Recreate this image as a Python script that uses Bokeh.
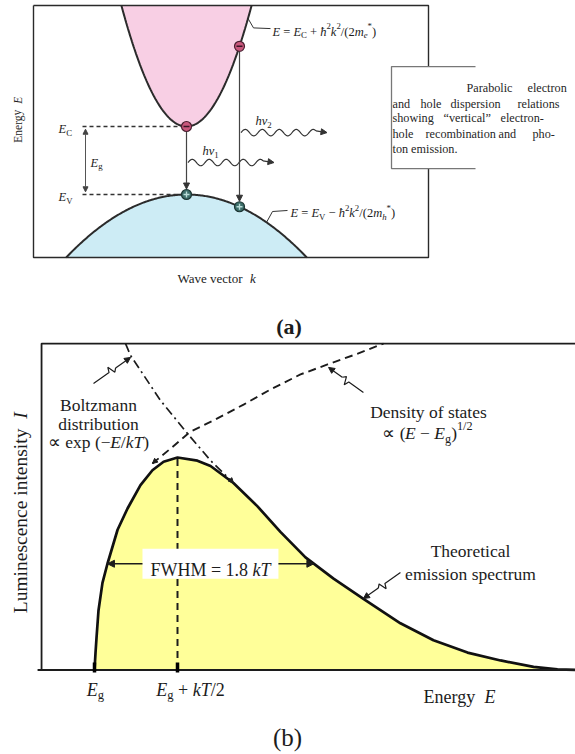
import math
import numpy as np
from bokeh.plotting import figure
from bokeh.layouts import column
from bokeh.models import ColumnDataSource, Arrow, NormalHead, Range1d
from bokeh.embed import file_html
from bokeh.resources import INLINE

SERIF = "Liberation Serif"
INK = "#1c1c1c"
NBSP = "\u00a0"

# ---------------- panel (a): parabolic band diagram (E in units of Eg) ----------------
E_C = 1.0                 # conduction-band edge
E_V = 0.0                 # valence-band edge
HB2_2ME = 1.05            # hbar^2 / (2 m_e*)
HB2_2MH = 0.16            # hbar^2 / (2 m_h*)
K_TRANSITIONS = [0.0, 1.06]      # wave vectors of the two vertical transitions
PHOTON_NAMES = ["1", "2"]

A_FRAME_K = (-3.06, 4.84)        # box around the band diagram
A_FRAME_E = (-0.926, 2.78)
A_VIEW_K = (-3.72, 7.78)
A_VIEW_E = (-2.147, 2.853)

# ---------------- panel (b): luminescence spectrum, x = (E - Eg)/kT ----------------
EMIT_X = [0.0, 0.006, 0.012, 0.024, 0.048, 0.078, 0.139, 0.199, 0.277, 0.349, 0.416,
          0.5, 0.62, 0.699, 0.837, 0.982, 1.12, 1.271, 1.44, 1.62, 1.843, 2.042,
          2.247, 2.446, 2.645, 2.789, 2.95]
EMIT_I = [0.0, 0.08, 0.15, 0.28, 0.41, 0.50, 0.66, 0.76, 0.87, 0.94, 0.98,
          1.0, 0.985, 0.96, 0.88, 0.77, 0.65, 0.53, 0.43, 0.335, 0.22, 0.14,
          0.082, 0.045, 0.015, 0.003, 0.0]
DOS_X = [0.349, 0.458, 0.578, 0.729, 0.898, 1.060, 1.241, 1.404, 1.572, 1.741]
DOS_I = [0.972, 1.042, 1.122, 1.179, 1.249, 1.320, 1.391, 1.438, 1.485, 1.536]
BOLTZ_X = [0.187, 0.217, 0.398, 0.560, 0.699, 0.837]
BOLTZ_I = [1.536, 1.480, 1.268, 1.113, 0.986, 0.880]
TICK_X = [0.0, 0.5]
TICK_LABEL_X = [0.006, 0.578]
TICK_LABELS = [[("E", "i"), ("g", "sub")],
               [("E", "i"), ("g", "sub"), (" + ", "n"), ("kT", "i"), ("/2", "n")]]
FWHM_KT = 1.8

B_FRAME_X = (-0.319, 2.95)
B_FRAME_TOP = 1.536
B_VIEW_X = (-0.5663, 2.8976)
B_VIEW_I = (-0.3976, 1.5506)

PINK = "#f8cfe4"
BLUE = "#cdecf5"
YELLOW = "#ffff99"

# Times / Liberation Serif advance widths (em) used to lay out mixed-style runs
W_REG = {" ": .25, NBSP: .25, "(": .333, ")": .333, "*": .5, "+": .564, "-": .333,
         ".": .25, "/": .278, "=": .564, "−": .564, "∝": .713, "ħ": .5, "ν": .5,
         "“": .444, "”": .444,
         "A": .722, "B": .667, "C": .667, "D": .722, "E": .611, "F": .556, "G": .722,
         "H": .722, "I": .333, "K": .722, "L": .611, "M": .889, "N": .722, "O": .722,
         "P": .556, "R": .667, "S": .556, "T": .611, "V": .722, "W": .944,
         "a": .444, "b": .5, "c": .444, "d": .5, "e": .444, "f": .333, "g": .5, "h": .5,
         "i": .278, "k": .5, "l": .278, "m": .778, "n": .5, "o": .5, "p": .5, "r": .333,
         "s": .389, "t": .278, "u": .5, "v": .5, "w": .722, "x": .5, "y": .5, "z": .444}
W_IT = {"E": .611, "I": .333, "T": .556, "k": .444, "m": .722, "h": .5, "e": .444,
        "g": .5, "ν": .44}


def run_width(s, style):
    tab = W_IT if style == "italic" else W_REG
    return sum(tab.get(c, W_REG.get(c, 0.5)) for c in s)


class RichText:
    """Collects text runs (italic, sub/superscript) into one text glyph."""

    def __init__(self):
        self.d = dict(x=[], y=[], t=[], xo=[], yo=[], fs=[], st=[], ang=[],
                      col=[], base=[], font=[])

    def add(self, x, y, runs, size, align="left", angle=0.0, color=INK,
            baseline="alphabetic", font=SERIF):
        if isinstance(runs, str):
            runs = [(runs, "n")]
        items, total = [], 0.0
        for s, kind in runs:
            s = s.replace(" ", NBSP)   # keep run-edge spaces in SVG text
            small = kind.startswith("sub") or kind.startswith("sup")
            fs = size * (0.7 if small else 1.0)
            style = "italic" if kind.endswith("i") else ("bold" if kind == "b" else "normal")
            shift = 0.3 * size if kind.startswith("sub") else (-0.42 * size if kind.startswith("sup") else 0.0)
            items.append((s, fs, style, shift, total))
            total += run_width(s, style) * fs
        start = {"left": 0.0, "center": -total / 2, "right": -total}[align]
        c, sn = math.cos(angle), math.sin(angle)
        for s, fs, style, shift, adv in items:
            a = start + adv
            self.d["x"].append(x)
            self.d["y"].append(y)
            self.d["t"].append(s)
            self.d["xo"].append(a * c + shift * sn)
            self.d["yo"].append(-a * sn + shift * c)
            self.d["fs"].append(f"{fs:.1f}px")
            self.d["st"].append(style)
            self.d["ang"].append(angle)
            self.d["col"].append(color)
            self.d["base"].append(baseline)
            self.d["font"].append(font)

    def draw(self, p):
        p.text(x="x", y="y", text="t", x_offset="xo", y_offset="yo", angle="ang",
               text_font_size="fs", text_font_style="st", text_color="col",
               text_baseline="base", text_align="left", text_font="font",
               source=ColumnDataSource(self.d))


def head(size=6, color=INK):
    return NormalHead(size=size, fill_color=color, line_color=color)


def leader(p, x0, y0, x1, y1, pxx, pxy, color=INK, width=1.2):
    """Line with a small zig-zag, ending in an arrow head at (x1, y1)."""
    dx, dy = (x1 - x0) * pxx, (y1 - y0) * pxy
    L = math.hypot(dx, dy)
    ux, uy = dx / L, dy / L
    nx, ny = -uy, ux
    def pt(a, b):
        return x0 + (a * ux + b * nx) / pxx, y0 + (a * uy + b * ny) / pxy
    a0 = 0.42 * L
    pts = [pt(0, 0), pt(a0, 0), pt(a0 + 2, 5), pt(a0 + 5, -3), pt(a0 + 8, 0)]
    p.line([q[0] for q in pts], [q[1] for q in pts], line_color=color, line_width=width)
    p.add_layout(Arrow(end=head(6, color), x_start=pts[-1][0], y_start=pts[-1][1],
                       x_end=x1, y_end=y1, line_color=color, line_width=width))


# =============================== panel (a) ===============================
A_H = 340
pa = figure(width=575, height=A_H, x_range=Range1d(*A_VIEW_K), y_range=Range1d(*A_VIEW_E),
            output_backend="svg", toolbar_location=None, x_axis_type=None, y_axis_type=None,
            min_border=0, outline_line_color=None, background_fill_color="white",
            border_fill_color="white")
A_PXK = 575 / (A_VIEW_K[1] - A_VIEW_K[0])
A_PXE = A_H / (A_VIEW_E[1] - A_VIEW_E[0])

# bands from the dispersion relations shown in the labels
kc_max = math.sqrt((A_FRAME_E[1] - E_C) / HB2_2ME)
kc = np.linspace(-kc_max, kc_max, 161)
ec = E_C + HB2_2ME * kc ** 2
kv_max = math.sqrt((E_V - A_FRAME_E[0]) / HB2_2MH)
kv = np.linspace(-kv_max, kv_max, 201)
ev = E_V - HB2_2MH * kv ** 2

pa.patch(list(kc), list(ec), fill_color=PINK, line_color=None)
pa.patch(list(kv), list(ev), fill_color=BLUE, line_color=None)

k0, k1 = A_FRAME_K
e0, e1 = A_FRAME_E
pa.line([k0, k1, k1, k0, k0], [e1, e1, e0, e0, e1], line_color="#2a2a2a", line_width=1.4)

pa.line(kc, ec, line_color="#2b2b2b", line_width=2.0)
pa.line(kv, ev, line_color="#2b2b2b", line_width=2.0)

# band-edge guides
pa.segment(x0=[-2.08, -2.08], y0=[E_C, E_V], x1=[0.0, 0.0], y1=[E_C, E_V],
           line_color="#333333", line_width=1.3, line_dash="4 3")
pa.add_layout(Arrow(start=head(5, "#444444"), end=head(5, "#444444"),
                    x_start=-2.02, y_start=E_V + 0.04, x_end=-2.02, y_end=E_C - 0.04,
                    line_color="#555555", line_width=1.0))

ke = np.array(K_TRANSITIONS)
e_el = E_C + HB2_2ME * ke ** 2
e_ho = E_V - HB2_2MH * ke ** 2
r_e = 5.5 / A_PXE
photon_e = [0.47, 0.91]
texts_a = RichText()
for k, ee, eh, ep, name in zip(ke, e_el, e_ho, photon_e, PHOTON_NAMES):
    pa.add_layout(Arrow(end=head(6, "#333333"), x_start=k, y_start=ee - r_e,
                        x_end=k, y_end=eh + r_e, line_color="#444444", line_width=1.2))
    # emitted photon: wavy line with arrow
    span = 1.5
    t = np.linspace(0, span, 240)
    wk = k + 0.03 + t
    we = ep + 3.2 / A_PXE * np.sin(2 * np.pi * t * A_PXK / 17.0)
    pa.line(wk, we, line_color="#333333", line_width=1.2)
    pa.add_layout(Arrow(end=head(6, "#333333"), x_start=wk[-1], y_start=we[-1],
                        x_end=k + 0.03 + span + 0.22, y_end=ep, line_color="#333333",
                        line_width=1.2))
    texts_a.add(k + 0.32, ep + 0.17, [("h", "i"), ("ν", "i"), (name, "sub")], 12.5)

# electrons and holes
pa.scatter(ke, e_el, size=10, marker="circle", fill_color="#c9577c", line_color="#4a1f30",
           line_width=1.2)
pa.scatter(ke, e_el, size=6, marker="dash", line_color="#3a1526", line_width=1.4)
pa.scatter(ke, e_ho, size=10, marker="circle", fill_color="#3d6e6a", line_color="#1d3533",
           line_width=1.2)
pa.scatter(ke, e_ho, size=6, marker="cross", line_color="#b9dcd8", line_width=1.4)

# caption box (partly covering the diagram frame)
pa.quad(left=4.1, right=9.5, top=1.882, bottom=0.382, fill_color="white", line_color=None)
pa.line([5.78, 4.1, 4.1, 5.78], [1.882, 1.882, 0.382, 0.382], line_color="#777777",
        line_width=1.3)

PARA = [
    (1.559, [("Parabolic", 5.60), ("electron", 6.82)]),
    (1.338, [("and", 4.12), ("hole", 4.68), ("dispersion", 5.28), ("relations", 6.62)]),
    (1.118, [("showing", 4.12), ("“vertical”", 5.14), ("electron-", 6.28)]),
    (0.897, [("hole", 4.12), ("recombination", 4.78), ("and", 6.24), ("pho-", 6.92)]),
    (0.676, [("ton emission.", 4.12)]),
]
for yb, words in PARA:
    for w, xk in words:
        texts_a.add(xk, yb, w, 12.2, color="#262626")

texts_a.add(-2.56, E_C - 0.044, [("E", "i"), ("C", "sub")], 12.5)
texts_a.add(-2.56, E_V - 0.044, [("E", "i"), ("V", "sub")], 12.5)
texts_a.add(-1.92, 0.47, [("E", "i"), ("g", "sub")], 12.5)
texts_a.add(1.72, 2.397, [("E", "i"), (" = ", "n"), ("E", "i"), ("C", "sub"), (" + ", "n"),
                          ("ħ", "i"), ("2", "sup"), ("k", "i"), ("2", "sup"), ("/(2", "n"),
                          ("m", "i"), ("e", "subi"), ("*", "sup"), (")", "n")], 12.5)
texts_a.add(2.08, -0.279, [("E", "i"), (" = ", "n"), ("E", "i"), ("V", "sub"), (" − ", "n"),
                           ("ħ", "i"), ("2", "sup"), ("k", "i"), ("2", "sup"), ("/(2", "n"),
                           ("m", "i"), ("h", "subi"), ("*", "sup"), (")", "n")], 12.5)
texts_a.add(-3.38, 1.10, [("Energy  ", "n"), ("E", "i")], 11.5, align="center",
            angle=math.pi / 2, baseline="middle")
texts_a.add(-0.18, -1.235, [("Wave vector  ", "n"), ("k", "i")], 13)
texts_a.add(2.04, -1.94, [("(a)", "b")], 22, align="center")
texts_a.draw(pa)

# leader lines to the dispersion formulas
pa.line([1.23, 1.34, 1.68], [2.589, 2.45, 2.44], line_color="#333333", line_width=1.0)
pa.line([1.60, 1.72, 2.02], [-0.41, -0.25, -0.235], line_color="#333333", line_width=1.0)

# =============================== panel (b) ===============================
B_H = 754 - A_H
pb = figure(width=575, height=B_H, x_range=Range1d(*B_VIEW_X), y_range=Range1d(*B_VIEW_I),
            output_backend="svg", toolbar_location=None, x_axis_type=None, y_axis_type=None,
            min_border=0, outline_line_color=None, background_fill_color="white",
            border_fill_color="white")
B_PXX = 575 / (B_VIEW_X[1] - B_VIEW_X[0])
B_PXI = B_H / (B_VIEW_I[1] - B_VIEW_I[0])

ex = np.array(EMIT_X)
ei = np.array(EMIT_I)
pb.patch(EMIT_X, EMIT_I, fill_color=YELLOW, line_color=None)

ipk = int(np.argmax(ei))
peak_x, peak_i = ex[ipk], ei[ipk]
pb.segment(x0=[peak_x], y0=[0.0], x1=[peak_x], y1=[peak_i], line_color=INK,
           line_width=2.0, line_dash="7 5")

# full width at half maximum
half = peak_i / 2
x_lo = float(np.interp(half, ei[:ipk + 1], ex[:ipk + 1]))
x_hi = float(np.interp(half, ei[ipk:][::-1], ex[ipk:][::-1]))
box_l, box_r = 0.289, 1.108
pb.add_layout(Arrow(end=head(7), x_start=box_l, y_start=half, x_end=x_lo, y_end=half,
                    line_color=INK, line_width=1.6))
pb.add_layout(Arrow(end=head(7), x_start=box_r, y_start=half, x_end=x_hi, y_end=half,
                    line_color=INK, line_width=1.6))
pb.quad(left=box_l, right=box_r, top=half + 0.071, bottom=half - 0.070,
        fill_color="white", line_color=None)

pb.line(DOS_X, DOS_I, line_color=INK, line_width=1.9, line_dash="8 5")
pb.line(BOLTZ_X, BOLTZ_I, line_color=INK, line_width=1.7, line_dash="9 4 2 4")
pb.add_layout(Arrow(end=head(5), x_start=DOS_X[0] + 0.03, y_start=DOS_I[0] + 0.02,
                    x_end=DOS_X[0], y_end=DOS_I[0], line_alpha=0))
pb.add_layout(Arrow(end=head(5), x_start=BOLTZ_X[-1] - 0.03, y_start=BOLTZ_I[-1] + 0.025,
                    x_end=BOLTZ_X[-1], y_end=BOLTZ_I[-1], line_alpha=0))

pb.line(EMIT_X, EMIT_I, line_color="#111111", line_width=2.7)

# frame and energy axis
fx0, fx1 = B_FRAME_X
pb.line([fx0, fx0, fx1], [0.0, B_FRAME_TOP, B_FRAME_TOP], line_color=INK, line_width=1.8)
pb.segment(x0=[-0.343], y0=[0.0], x1=[fx1], y1=[0.0], line_color=INK, line_width=2.0)
pb.segment(x0=TICK_X, y0=[-0.012] * len(TICK_X), x1=TICK_X, y1=[0.035] * len(TICK_X),
           line_color="#000000", line_width=3.5)

texts_b = RichText()
for lx, runs in zip(TICK_LABEL_X, TICK_LABELS):
    texts_b.add(lx, -0.092, runs, 18, align="center")
texts_b.add(1.982, -0.125, [("Energy  ", "n"), ("E", "i")], 18)
texts_b.add(-0.446, 0.74, [("Luminescence intensity  ", "n"), ("I", "i")], 19.5,
            align="center", angle=math.pi / 2, baseline="middle")
texts_b.add(0.6985, half - 0.028, [(f"FWHM = {FWHM_KT} ", "n"), ("kT", "i")], 18,
            align="center")

texts_b.add(0.024, 1.245, "Boltzmann", 17.5, align="center")
texts_b.add(0.024, 1.160, "distribution", 17.5, align="center")
texts_b.add(0.024, 1.071, [("∝ exp (−", "n"), ("E", "i"), ("/", "n"), ("kT", "i"), (")", "n")],
            17.5, align="center")
texts_b.add(2.012, 1.216, "Density of states", 17.5, align="center")
texts_b.add(2.006, 1.113, [("∝ (", "n"), ("E", "i"), (" − ", "n"), ("E", "i"), ("g", "sub"),
                           (")", "n"), ("1/2", "sup")], 17.5, align="center")
texts_b.add(2.265, 0.558, "Theoretical", 17.5, align="center")
texts_b.add(2.265, 0.454, "emission spectrum", 17.5, align="center")
texts_b.add(1.163, -0.318, "(b)", 25, align="center")
texts_b.draw(pb)

leader(pb, -0.006, 1.348, 0.217, 1.471, B_PXX, B_PXI)
leader(pb, 1.620, 1.306, 1.410, 1.424, B_PXX, B_PXI)
leader(pb, 1.843, 0.459, 1.620, 0.336, B_PXX, B_PXI)

layout = column(pa, pb, spacing=0)
open("out.html", "w").write(file_html(layout, INLINE))
